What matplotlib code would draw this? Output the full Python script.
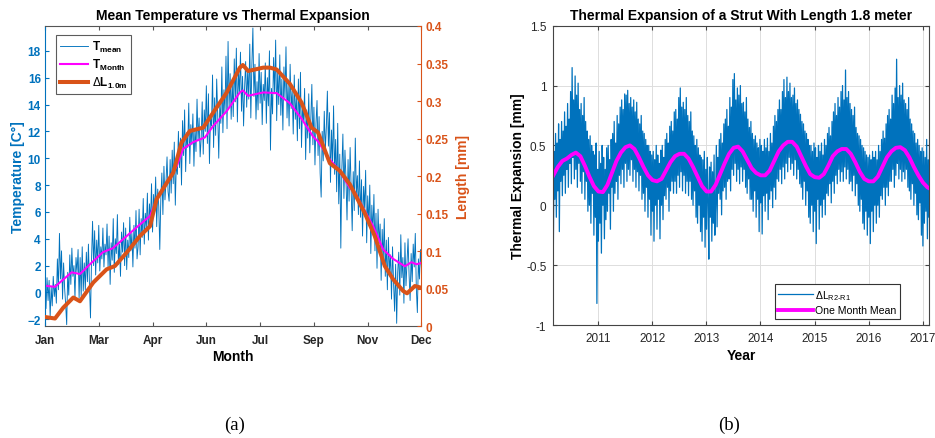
import numpy as np
import matplotlib
matplotlib.use("Agg")
import matplotlib.pyplot as plt

plt.rcParams["font.family"] = ["Liberation Sans", "DejaVu Sans"]
plt.rcParams["mathtext.fontset"] = "custom"
plt.rcParams["mathtext.rm"] = "Liberation Sans"
plt.rcParams["mathtext.it"] = "Liberation Sans:italic"
plt.rcParams["mathtext.bf"] = "Liberation Sans:bold"

BLUE = "#0072BD"
ORANGE = "#D95319"
MAGENTA = "#FF00FF"
DARK = "#262626"

# ---------------- (a) daily mean temperature over one year [deg C] ----------------
t_jan = [0.8, -1.2, 1.1, -0.6, 0.9, -1.8, 0.4, -1.0, 1.2, -0.3, 0.6, -0.8, 2.5, 0.2, 4.4, 1.0,
         3.1, -0.5, 2.2, 0.3, -0.9, -2.4, 1.5, -0.2, 2.8, 0.6, 3.3, 1.2, 2.0, -0.4, 2.6]
t_feb = [1.5, 3.2, -0.4, 2.6, -0.3, 3.4, 0.1, 2.2, 0.2, 3.0, 0.8, 3.6, 0.6, -1.9, 2.4, 5.3,
         2.0, 4.6, 1.3, 3.9, 2.2, 5.0, 1.6, 3.4, 2.5, 4.8, 1.9, 3.6]
t_mar = [2.8, 5.1, 1.9, 4.2, 0.6, 3.7, 2.4, 5.5, 1.5, 4.0, 2.9, 5.8, 2.1, 3.6, 1.2, 4.5,
         3.0, 5.2, 2.0, 4.8, 1.7, 3.9, 2.6, 5.6, 3.1, 4.4, 1.9, 5.0, 3.3, 6.1, 2.5]
t_apr = [3.4, 6.2, 2.8, 5.5, 4.1, 7.0, 3.6, 5.9, 4.8, 7.4, 3.9, 6.6, 5.2, 8.1, 4.5, 7.3,
         6.0, 8.6, 4.9, 7.7, 6.4, 3.2, 7.0, 8.9, 5.8, 9.4, 6.9, 8.2, 10.1, 7.5]
t_may = [6.8, 9.9, 7.4, 10.6, 8.1, 11.2, 6.5, 9.7, 8.8, 12.0, 9.3, 11.5, 8.0, 12.8, 10.2, 13.6,
         9.0, 11.9, 10.8, 14.1, 9.6, 12.5, 11.0, 13.3, 9.4, 12.2, 10.5, 14.4, 11.3, 13.0, 10.1]
t_jun = [11.5, 14.2, 10.3, 13.6, 12.0, 15.4, 11.1, 14.8, 9.6, 13.0, 12.4, 16.2, 10.8, 14.5, 11.7,
         15.9, 13.2, 10.0, 14.0, 12.6, 16.8, 11.9, 15.1, 13.4, 17.6, 12.2, 18.7, 13.8, 16.3, 12.9]
t_jul = [15.8, 13.1, 17.4, 14.2, 18.2, 12.7, 16.5, 14.9, 17.9, 13.5, 16.1, 12.4, 15.3, 17.2, 13.8,
         16.7, 14.4, 18.5, 13.0, 16.9, 19.7, 14.6, 17.0, 12.9, 15.7, 13.6, 17.8, 14.1, 16.4, 12.5, 15.5]
t_aug = [14.3, 17.1, 12.6, 16.0, 13.9, 18.0, 10.6, 15.2, 13.3, 17.5, 14.8, 18.8, 12.8, 16.6, 14.0,
         17.7, 13.2, 15.9, 12.1, 16.8, 14.5, 18.3, 13.0, 15.6, 12.4, 17.0, 13.7, 15.0, 11.8, 16.2, 12.9]
t_sep = [14.6, 11.3, 15.9, 12.2, 16.4, 10.8, 14.0, 12.7, 15.2, 9.9, 13.6, 11.5, 14.8, 10.4, 12.9,
         15.5, 11.0, 13.8, 9.5, 12.6, 14.3, 10.2, 13.1, 8.9, 7.1, 12.0, 9.8, 13.5, 10.6, 12.3]
t_oct = [15.0, 10.9, 13.4, 8.2, 12.1, 9.6, 13.9, 8.8, 11.4, 7.5, 12.6, 6.6, 10.3, 3.3, 9.2, 11.8,
         7.0, 10.6, 8.4, 5.4, 9.9, 6.8, 10.8, 7.7, 4.6, 9.0, 6.1, 11.5, 7.3, 8.7, 5.8]
t_nov = [9.8, 5.6, 8.4, 4.2, 7.9, 6.3, 9.1, 3.7, 7.2, 5.0, 8.0, 2.9, 6.5, 4.4, 7.3, 3.1, 5.9,
         1.8, 6.2, 3.6, 5.1, 0.9, 4.7, 2.4, 5.5, 1.2, 3.9, 0.2, 4.1, 1.6]
t_dec = [2.8, -0.5, 3.4, 0.7, -1.4, 2.1, -2.3, 1.5, 3.0, -0.2, 4.3, 1.1, 2.6, -0.8, 3.7, 0.5,
         2.2, 4.0, 1.3, -0.6, 2.9, 0.8, 3.6, 1.9, 4.4, 0.3, -1.5, 2.5, 1.0, 3.2, 1.7]

# monthly running mean of temperature (day of year, deg C)
tm_day = [0, 9.7, 14.5, 25.8, 33.8, 43.5, 56, 65.7, 79, 88.6, 101.5, 109.5, 117.6, 127.3,
          133.6, 143.3, 154.6, 162.6, 175.6, 188.4, 191.3, 196.4, 211, 224, 236.7, 248,
          259.3, 264, 275.4, 283.4, 294.7, 299.6, 307.6, 317.2, 327, 336.6, 347.9, 354.3,
          359.2, 364]
tm_val = [0.5, 0.42, 0.75, 1.5, 1.37, 2.1, 3.0, 3.3, 4.2, 4.85, 5.7, 7.2, 8.2, 9.4, 10.7, 11.2,
          11.55, 12.4, 13.5, 14.9, 15.05, 14.65, 14.9, 14.85, 14.1, 12.95, 11.6, 11.25, 9.9,
          9.2, 7.8, 7.45, 6.3, 4.95, 3.2, 2.5, 1.95, 2.25, 2.1, 2.2]

# thermal length change of a 1.0 m strut (day of year, mm)
dl_day = [0, 9.7, 17.7, 27.4, 33.8, 46.7, 59.6, 67.6, 79, 91.8, 101.5, 107.9, 116, 124, 132,
          140, 153, 162.6, 175.6, 188.4, 191.3, 196.4, 211, 217.5, 224, 236.7, 248, 257.7,
          264, 275.4, 285, 294.7, 299.6, 309, 318.8, 328.5, 336.6, 346.3, 350, 354.3, 357.5,
          364]
dl_val = [0.012, 0.010, 0.0245, 0.038, 0.033, 0.058, 0.0756, 0.080, 0.098, 0.12, 0.133,
          0.169, 0.187, 0.2045, 0.2445, 0.26, 0.2645, 0.2845, 0.311, 0.3445, 0.348, 0.34,
          0.3445, 0.3445, 0.342, 0.323, 0.298, 0.2645, 0.258, 0.217, 0.207, 0.189, 0.176,
          0.151, 0.12, 0.08, 0.0623, 0.0467, 0.0436, 0.049, 0.0533, 0.051]

month_ticks = ["Jan", "Mar", "Apr", "Jun", "Jul", "Sep", "Nov", "Dec"]

# ---------------- (b) strut expansion 2010-2017 [mm], six readings per month ----------------
dl_2010 = [-0.38, 0.45, 0.05, 0.6, -0.1, 0.52,
           0.12, 0.68, -0.22, 0.55, 0.2, 0.7,
           0.08, 0.62, 0.25, 0.78, 0.1, 0.66,
           0.3, 0.85, 0.15, 0.72, 0.35, 0.95,
           0.18, 1.15, 0.4, 0.88, 0.22, 1.08,
           0.3, 0.92, 0.15, 1.02, 0.35, 0.8,
           0.2, 0.85, 0.1, 0.75, 0.28, 0.9,
           0.05, 0.7, 0.2, 0.62, -0.05, 0.55,
           0.0, 0.58, -0.15, 0.5, 0.1, 0.45,
           -0.25, 0.42, -0.1, 0.52, -0.82, 0.3]
dl_2011 = [-0.3, 0.45, -0.15, 0.35, -0.4, 0.5,
           0.0, 0.4, -0.28, 0.3, -0.12, 0.48,
           -0.05, 0.5, 0.1, 0.38, -0.2, 0.55,
           0.15, 0.6, -0.05, 0.7, 0.1, 0.52,
           0.2, 0.75, 0.05, 0.68, 0.25, 0.82,
           0.18, 0.88, 0.3, 0.8, 0.15, 0.93,
           0.35, 0.92, 0.2, 0.96, 0.3, 0.85,
           0.25, 0.9, 0.38, 0.82, 0.2, 0.88,
           0.3, 0.78, 0.15, 0.86, 0.28, 0.72,
           0.12, 0.68, 0.25, 0.75, 0.05, 0.62,
           0.1, 0.6, -0.05, 0.55, 0.15, 0.5,
           -0.1, 0.5, 0.05, 0.45, -0.25, 0.42]
dl_2012 = [-0.05, 0.45, -0.3, 0.38, 0.0, 0.5,
           -0.2, 0.42, 0.05, 0.35, -0.28, 0.46,
           0.0, 0.5, -0.12, 0.4, 0.08, 0.55,
           0.05, 0.6, 0.15, 0.52, -0.05, 0.66,
           0.12, 0.7, 0.2, 0.62, 0.1, 0.78,
           0.2, 0.8, 0.1, 0.72, 0.25, 0.9,
           0.15, 0.98, 0.28, 0.82, 0.12, 0.86,
           0.25, 0.8, 0.1, 0.9, 0.2, 0.75,
           0.08, 0.7, 0.2, 0.78, 0.05, 0.62,
           0.0, 0.58, 0.12, 0.5, -0.1, 0.55,
           -0.15, 0.48, 0.0, 0.42, -0.22, 0.4,
           -0.3, 0.38, -0.1, 0.45, -0.35, 0.3]
dl_2013 = [-0.2, 0.4, 0.05, -0.45, 0.32, -0.1,
           0.36, -0.3, 0.28, -0.15, 0.42, -0.25,
           0.0, 0.5, -0.18, 0.4, 0.1, 0.55,
           0.05, 0.6, -0.08, 0.52, 0.12, 0.68,
           0.15, 0.72, 0.05, 0.8, 0.2, 0.66,
           0.22, 0.9, 0.12, 0.82, 0.3, 1.05,
           0.25, 1.1, 0.35, 0.88, 0.2, 0.98,
           0.3, 0.92, 0.18, 1.0, 0.32, 0.85,
           0.2, 0.86, 0.3, 0.78, 0.15, 0.9,
           0.1, 0.72, 0.22, 0.65, 0.05, 0.7,
           0.05, 0.6, -0.05, 0.55, 0.12, 0.58,
           -0.1, 0.52, 0.05, 0.48, -0.22, 0.55]
dl_2014 = [0.02, 0.5, -0.24, 0.45, 0.08, 0.55,
           -0.05, 0.48, 0.1, 0.56, -0.12, 0.45,
           0.05, 0.6, 0.12, 0.52, -0.02, 0.66,
           0.15, 0.75, 0.05, 0.7, 0.22, 0.8,
           0.2, 0.88, 0.3, 0.8, 0.18, 0.95,
           0.32, 1.05, 0.22, 0.9, 0.35, 1.07,
           0.28, 0.95, 0.4, 1.02, 0.3, 0.9,
           0.35, 0.92, 0.25, 0.98, 0.38, 0.85,
           0.22, 0.88, 0.3, 0.8, 0.18, 0.76,
           0.15, 0.7, 0.05, 0.68, 0.2, 0.62,
           0.0, 0.6, 0.12, 0.55, -0.1, 0.5,
           -0.15, 0.5, 0.0, 0.45, -0.22, 0.52]
dl_2015 = [-0.05, 0.48, -0.32, 0.4, 0.05, 0.5,
           -0.2, 0.45, 0.0, 0.52, -0.1, 0.42,
           0.05, 0.55, -0.08, 0.5, 0.1, 0.6,
           0.08, 0.65, 0.18, 0.58, 0.02, 0.7,
           0.2, 0.78, 0.1, 0.85, 0.25, 0.75,
           0.18, 0.9, 0.3, 0.82, 0.2, 0.95,
           0.28, 1.0, 0.2, 0.88, 0.32, 1.13,
           0.22, 0.9, 0.3, 0.95, 0.18, 0.85,
           0.2, 0.8, 0.12, 0.75, 0.25, 0.82,
           0.08, 0.65, 0.18, 0.6, 0.0, 0.58,
           -0.05, 0.55, 0.05, 0.5, -0.15, 0.48,
           -0.2, 0.45, -0.05, 0.42, -0.25, 0.4]
dl_2016 = [-0.1, 0.42, -0.32, 0.38, -0.05, 0.45,
           -0.22, 0.4, 0.0, 0.45, -0.15, 0.38,
           0.0, 0.5, -0.1, 0.45, 0.08, 0.55,
           0.05, 0.62, 0.15, 0.56, 0.0, 0.68,
           0.15, 0.75, 0.08, 0.8, 0.2, 0.72,
           0.2, 0.92, 0.3, 0.85, 0.15, 0.98,
           0.25, 1.22, 0.35, 0.9, 0.22, 1.0,
           0.3, 0.92, 0.2, 1.02, 0.28, 0.88,
           0.22, 0.85, 0.3, 0.8, 0.15, 0.9,
           0.12, 0.72, 0.05, 0.68, 0.18, 0.62,
           0.0, 0.6, 0.1, 0.52, -0.08, 0.55,
           -0.12, 0.5, 0.02, 0.45, -0.25, 0.48]
dl_2017 = [-0.34, 0.45, -0.15, 0.4, -0.05, 0.55,
           -0.28, 0.38, -0.1, 0.6, -0.2, 0.35]

# one month mean of the expansion, one value per month from March 2010 [mm]
month_mean = [0.25, 0.32, 0.37, 0.39, 0.42, 0.44, 0.41, 0.33, 0.24, 0.16,
              0.115, 0.11, 0.17, 0.27, 0.37, 0.44, 0.485, 0.50, 0.47, 0.40, 0.32, 0.25,
              0.21, 0.20, 0.22, 0.29, 0.36, 0.41, 0.43, 0.43, 0.39, 0.32, 0.24, 0.16,
              0.115, 0.115, 0.17, 0.26, 0.35, 0.43, 0.48, 0.49, 0.45, 0.38, 0.31, 0.27,
              0.25, 0.25, 0.29, 0.37, 0.45, 0.50, 0.53, 0.53, 0.49, 0.41, 0.33, 0.26,
              0.235, 0.23, 0.26, 0.33, 0.41, 0.45, 0.47, 0.47, 0.43, 0.36, 0.28, 0.22,
              0.20, 0.20, 0.24, 0.32, 0.40, 0.45, 0.48, 0.485, 0.46, 0.40, 0.32, 0.25,
              0.19, 0.15, 0.13]
series_start = 2010.17
year_ticks = [2011, 2012, 2013, 2014, 2015, 2016, 2017]

# ---------------- figure ----------------
fig = plt.figure(figsize=(9.35, 4.39), dpi=100)

# (a)
t_mean = np.array(t_jan + t_feb + t_mar + t_apr + t_may + t_jun + t_jul + t_aug +
                  t_sep + t_oct + t_nov + t_dec)
days = np.arange(len(t_mean))

axa = fig.add_axes([0.0481, 0.2551, 0.4027, 0.6834])
axb = axa.twinx()
h1, = axa.plot(days, t_mean, color=BLUE, lw=0.65)
h2, = axa.plot(tm_day, tm_val, color=MAGENTA, lw=1.5)
h3, = axb.plot(dl_day, dl_val, color=ORANGE, lw=2.9, solid_joinstyle="round")

axa.set_xlim(0, 364)
axa.set_ylim(-2.5, 19.85)
axb.set_ylim(0, 0.4)
axa.set_xticks(np.linspace(0, 364, len(month_ticks)))
axa.set_xticklabels(month_ticks)
axa.set_yticks(np.arange(-2, 19, 2))
axb.set_yticks(np.arange(0, 0.401, 0.05))
axb.set_yticklabels(["0", "0.05", "0.1", "0.15", "0.2", "0.25", "0.3", "0.35", "0.4"])

for lab in axa.get_xticklabels():
    lab.set_fontweight("bold")
for lab in axa.get_yticklabels() + axb.get_yticklabels():
    lab.set_fontweight("bold")

axa.tick_params(axis="x", direction="in", top=True, length=3, labelsize=8.5,
                colors="#555555", labelcolor=DARK, pad=6)
axa.tick_params(axis="y", direction="in", length=3, labelsize=8.5,
                colors=BLUE, labelcolor=BLUE, pad=3)
axb.tick_params(axis="y", direction="in", length=3, labelsize=8.5,
                colors=ORANGE, labelcolor=ORANGE, pad=3)
axa.spines["left"].set_color(BLUE)
axa.spines["right"].set_visible(False)
axb.spines["left"].set_visible(False)
axb.spines["right"].set_color(ORANGE)
for sp in ("top", "bottom"):
    axa.spines[sp].set_color("#555555")
    axb.spines[sp].set_visible(False)
for sp in axa.spines.values():
    sp.set_linewidth(0.8)
axb.spines["right"].set_linewidth(0.8)

axa.set_title("Mean Temperature vs Thermal Expansion", fontsize=10,
              fontweight="bold", pad=5)
axa.set_xlabel("Month", fontsize=10, fontweight="bold", labelpad=2)
axa.set_ylabel("Temperature [C°]", fontsize=10, fontweight="bold", color=BLUE,
               labelpad=2)
axb.set_ylabel("Length [mm]", fontsize=10, fontweight="bold", color=ORANGE,
               labelpad=5)

leg = axb.legend([h1, h2, h3],
                 [r"$\mathbf{T_{mean}}$", r"$\mathbf{T_{Month}}$",
                  r"$\Delta\mathbf{L_{1.0m}}$"],
                 loc="upper left", bbox_to_anchor=(0.028, 0.97), borderaxespad=0,
                 fontsize=8.5, frameon=True, fancybox=False, edgecolor="#333333",
                 handlelength=2.4, handletextpad=0.3, borderpad=0.35,
                 labelspacing=0.25)
leg.get_frame().set_linewidth(0.8)

# (b)
dl_all = np.array(dl_2010 + dl_2011 + dl_2012 + dl_2013 + dl_2014 + dl_2015 +
                  dl_2016 + dl_2017)
t_obs = series_start + np.arange(len(dl_all)) / 72.0
t_month = series_start + np.arange(len(month_mean)) / 12.0

ax2 = fig.add_axes([0.5918, 0.2574, 0.4023, 0.6818])
g1, = ax2.plot(t_obs, dl_all, color=BLUE, lw=0.9)
g2, = ax2.plot(t_month, month_mean, color=MAGENTA, lw=2.8)
ax2.set_xlim(series_start, 2017.125)
ax2.set_ylim(-1, 1.5)
ax2.set_xticks(year_ticks)
ax2.set_yticks([-1, -0.5, 0, 0.5, 1, 1.5])
ax2.set_yticklabels(["-1", "-0.5", "0", "0.5", "1", "1.5"])
ax2.grid(True, color="#dddddd", lw=0.7)
ax2.set_axisbelow(True)
ax2.tick_params(direction="in", top=True, right=True, length=3, labelsize=8.5,
                colors="#444444", labelcolor=DARK, pad=5)
for sp in ax2.spines.values():
    sp.set_color("#444444")
    sp.set_linewidth(0.8)
ax2.set_title("Thermal Expansion of a Strut With Length 1.8 meter", fontsize=10,
              fontweight="bold", pad=5)
ax2.set_xlabel("Year", fontsize=10, fontweight="bold", labelpad=3)
ax2.set_ylabel("Thermal Expansion [mm]", fontsize=10, fontweight="bold", labelpad=1)
leg2 = ax2.legend([g1, g2], [r"$\Delta$L$_{\rm R2\text{-}R1}$", "One Month Mean"],
                  loc="lower right", bbox_to_anchor=(0.922, 0.02), borderaxespad=0,
                  fontsize=7.6, frameon=True, fancybox=False, framealpha=1,
                  edgecolor="#333333", handlelength=3.3, handletextpad=0.2,
                  borderpad=0.35, labelspacing=0.35)
leg2.get_frame().set_linewidth(0.8)

# panel captions
fig.text(235 / 935, 1 - 425 / 439, "(a)", ha="center", va="center",
         fontsize=13.5, family="Liberation Serif")
fig.text(729 / 935, 1 - 425 / 439, "(b)", ha="center", va="center",
         fontsize=13.5, family="Liberation Serif")

fig.savefig("out.png", dpi=100)
